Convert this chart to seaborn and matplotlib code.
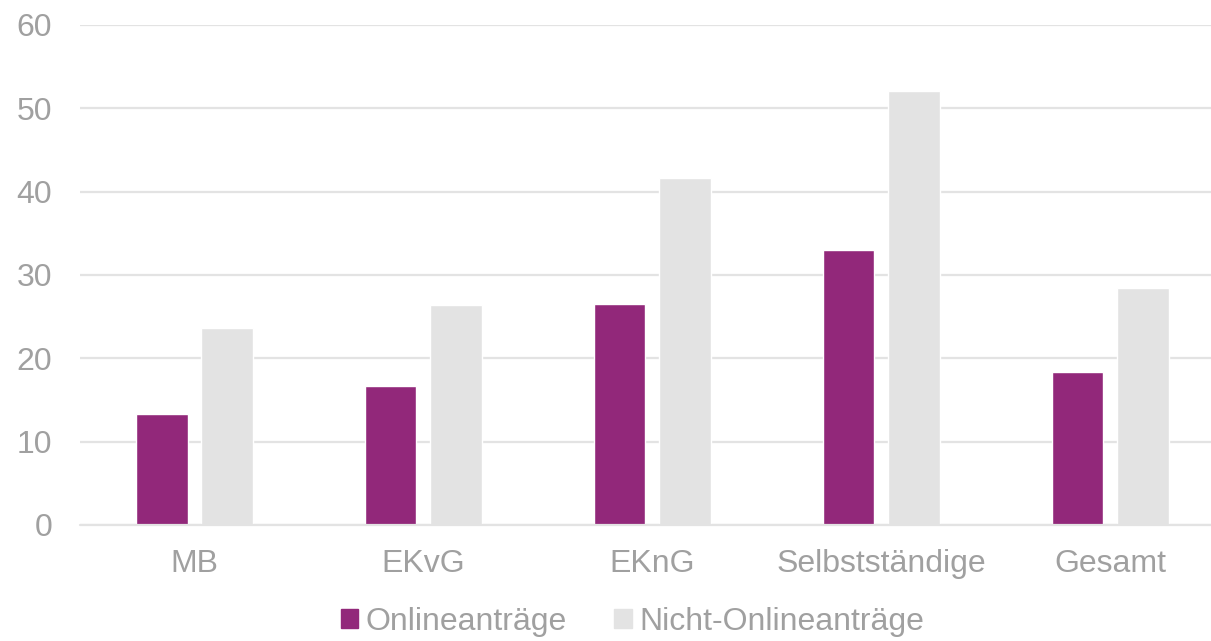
import numpy as np
import pandas as pd
import matplotlib
matplotlib.use('Agg')
import matplotlib.pyplot as plt
import seaborn as sns

# data
categories = ['MB', 'EKvG', 'EKnG', 'Selbstständige', 'Gesamt']
online = [13.3, 16.7, 26.5, 33.0, 18.4]
nicht_online = [23.6, 26.4, 41.6, 52.1, 28.4]
series_names = ['Onlineanträge', 'Nicht-Onlineanträge']
yticks = [0, 10, 20, 30, 40, 50, 60]

df = pd.DataFrame({
    'Kategorie': categories * 2,
    'Wert': online + nicht_online,
    'Art': [series_names[0]] * len(categories) + [series_names[1]] * len(categories),
})

sns.set_theme(style='white')
plt.rcParams['font.family'] = ['Liberation Sans', 'DejaVu Sans']

text_grey = '#a0a0a0'
grid_grey = '#e3e3e3'
palette = {series_names[0]: '#92287a', series_names[1]: '#e3e3e3'}

fig = plt.figure(figsize=(12.11, 6.41), dpi=100)
ax = fig.add_axes([80 / 1211, 1 - 525 / 641, 1131 / 1211, 500 / 641])

sns.barplot(data=df, x='Kategorie', y='Wert', hue='Art', palette=palette,
            width=0.568, gap=0.215, saturation=1, ax=ax, legend=False, zorder=3)

ax.set_ylim(0, 60)
ax.set_xlim(-0.5, 4.439)
ax.set_yticks(yticks)
ax.set_xlabel('')
ax.set_ylabel('')
ax.yaxis.grid(True, color=grid_grey, linewidth=1.6, zorder=0)
ax.set_axisbelow(True)
for s in ['top', 'right', 'left', 'bottom']:
    ax.spines[s].set_visible(False)
ax.axhline(0, color=grid_grey, linewidth=1.6, zorder=4, clip_on=False)

ax.tick_params(axis='y', length=0, pad=20, labelsize=23, labelcolor=text_grey)
ax.tick_params(axis='x', length=0, pad=17, labelsize=23, labelcolor=text_grey)

handles = [plt.Rectangle((0, 0), 1, 1, color=palette[n]) for n in series_names]
fig.legend(handles, series_names, loc='center', bbox_to_anchor=(0.522, 0.03),
           ncol=2, frameon=False, fontsize=23, labelcolor=text_grey,
           handlelength=0.55, handleheight=0.55, handletextpad=0.22,
           columnspacing=1.5, borderaxespad=0, borderpad=0)

fig.savefig('out.png', dpi=100)
